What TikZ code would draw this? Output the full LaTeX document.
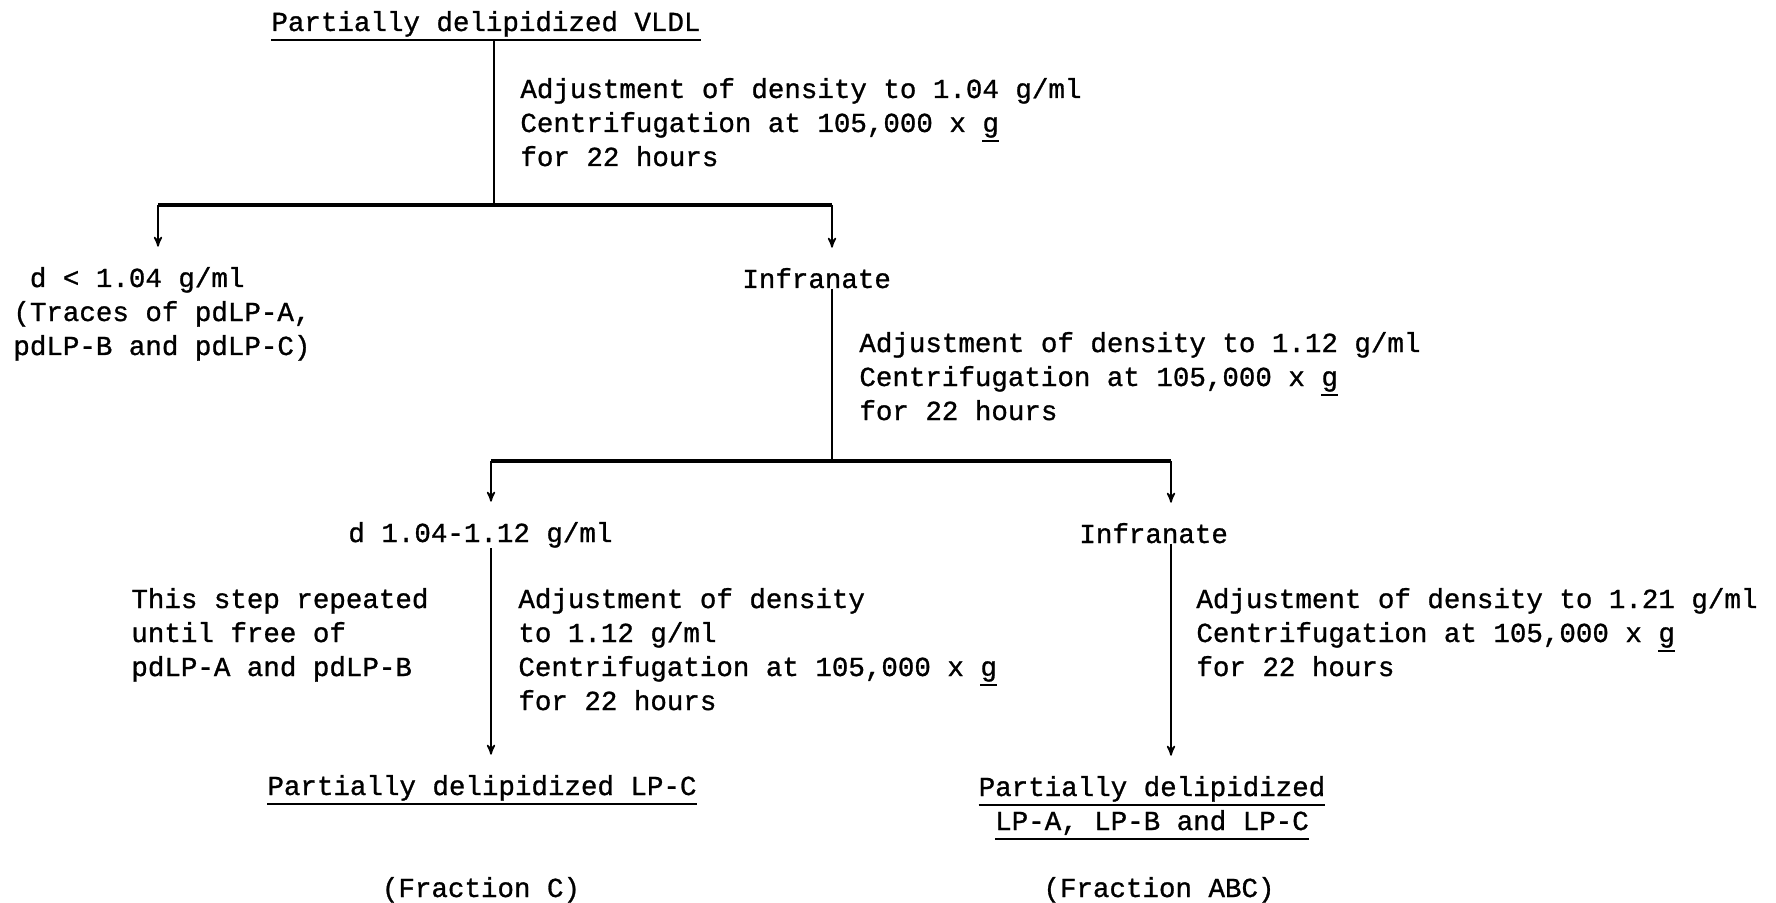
\documentclass[tikz,border=0pt]{standalone}
\usepackage{fontspec}
\newfontfamily\machine{Liberation Mono}[FakeBold=1]
\usetikzlibrary{arrows}

\newcommand{\sousligne}[1]{\leavevmode\setbox0\hbox{#1}\rlap{\rule[-5pt]{\wd0}{1.2pt}}\box0}

\begin{document}
\begin{tikzpicture}[x=0.5pt, y=-0.5pt]

  % Styles
  \tikzstyle{texte} = [inner sep=0pt, font=\machine\fontsize{13.75}{17}\selectfont]
  \tikzstyle{bloc} = [texte, anchor=base west, align=left]
  \tikzstyle{titre} = [texte, anchor=base, align=center]
  \tikzstyle{trait} = [line width=0.8pt]
  \tikzstyle{barre} = [line width=1.8pt]
  \tikzstyle{fleche} = [->, >=stealth', line width=0.8pt, shorten >=10pt]

  \useasboundingbox (0,0) rectangle (1776,903);

  % Fractions (base = derniere ligne)
  \draw (486,31) node[titre] (vldl) {\sousligne{Partially delipidized VLDL}};
  \draw (13,355) node[bloc] (frac1) {\hspace*{8.25pt}d < 1.04 g/ml\\(Traces of pdLP-A,\\pdLP-B and pdLP-C)};
  \draw (742,288) node[bloc] (infra1) {Infranate};
  \draw (348,542) node[bloc] (frac2) {d 1.04-1.12 g/ml};
  \draw (1079,543) node[bloc] (infra2) {Infranate};
  \draw (482,795) node[titre] (lpc) {\sousligne{Partially delipidized LP-C}};
  \draw (1152,830) node[titre] (lpabc) {\sousligne{Partially delipidized}\\\sousligne{LP-A, LP-B and LP-C}};
  \draw (481,897) node[titre] (fracC) {(Fraction C)};
  \draw (1159,897) node[titre] (fracABC) {(Fraction ABC)};

  % Etapes
  \draw (520,166) node[bloc] (etape1) {Adjustment of density to 1.04 g/ml\\Centrifugation at 105,000 x \sousligne{g}\\for 22 hours};
  \draw (859,420) node[bloc] (etape2) {Adjustment of density to 1.12 g/ml\\Centrifugation at 105,000 x \sousligne{g}\\for 22 hours};
  \draw (131,676) node[bloc] (repete) {This step repeated\\until free of\\pdLP-A and pdLP-B};
  \draw (518,710) node[bloc] (etape3) {Adjustment of density\\to 1.12 g/ml\\Centrifugation at 105,000 x \sousligne{g}\\for 22 hours};
  \draw (1196,676) node[bloc] (etape4) {Adjustment of density to 1.21 g/ml\\Centrifugation at 105,000 x \sousligne{g}\\for 22 hours};

  % Barres
  \coordinate (j1) at (494,205);
  \coordinate (b1g) at (158,205);
  \coordinate (b1d) at (832,205);
  \coordinate (j2) at (832,461);
  \coordinate (b2g) at (491,461);
  \coordinate (b2d) at (1171,461);
  \draw[barre] (b1g) -- (b1d);
  \draw[barre] (b2g) -- (b2d);

  % Liaisons
  \draw[trait] (vldl.south -| j1) -- (j1);
  \draw[fleche] (b1g) -- (frac1.north -| b1g);
  \draw[fleche] (b1d) -- (infra1.north -| b1d);
  \draw[trait] (infra1.south -| j2) -- (j2);
  \draw[fleche] (b2g) -- (frac2.north -| b2g);
  \draw[fleche] (b2d) -- (infra2.north -| b2d);
  \draw[fleche] (frac2.south -| b2g) -- (lpc.north -| b2g);
  \draw[fleche] (infra2.south -| b2d) -- (lpabc.north -| b2d);

\end{tikzpicture}
\end{document}
